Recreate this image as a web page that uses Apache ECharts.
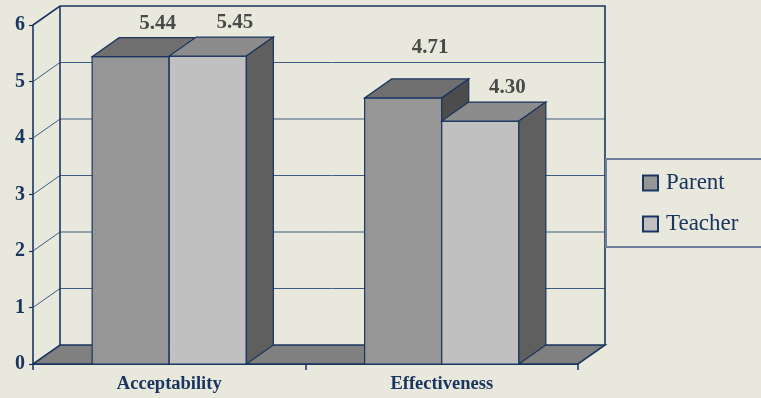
<!DOCTYPE html>
<html>
<head>
<meta charset="utf-8">
<script src="https://cdn.jsdelivr.net/npm/echarts@6/dist/echarts.min.js"></script>
<style>
  html, body { margin: 0; padding: 0; background: #e8e8dc; }
  #chart { width: 761px; height: 398px; }
</style>
</head>
<body>
<div id="chart"></div>
<script>
// Mean ratings by rater group
const categories = ['Acceptability', 'Effectiveness'];
const parentScores = [5.44, 4.71];
const teacherScores = [5.45, 4.30];
const yTicks = [0, 1, 2, 3, 4, 5, 6];

// 3D look: offset of the back plane from the front plane, in pixels
const DEPTH_X = 27;
const DEPTH_Y = -19;
const BAR_FRAC = 0.283;          // share of a category band taken by one bar
const NAVY = '#1a3560';
const GRID_BLUE = '#3d5d85';
const SERIF = '"Liberation Serif", "Times New Roman", serif';

const shades = {
  Parent:  { front: '#969696', top: '#6f6f6f', side: '#4c4c4c' },
  Teacher: { front: '#c0c0c0', top: '#8c8c8c', side: '#5f5f5f' }
};
// extra lift for individual value labels (px), per category
const labelLift = { Parent: [0, 17], Teacher: [0, 0] };

function poly(points, fill, stroke, lw) {
  return {
    type: 'polygon',
    shape: { points: points },
    style: { fill: fill, stroke: stroke, lineWidth: lw }
  };
}

function barRenderer(name, slot) {
  const c = shades[name];
  return function (params, api) {
    const cat = api.value(0);
    const v = api.value(1);
    const base = api.coord([cat, 0]);
    const top = api.coord([cat, v]);
    const band = api.size([1, 0])[0];
    const w = band * BAR_FRAC;
    const xl = base[0] + slot * w;
    const xr = xl + w;
    const yb = base[1];
    const yt = top[1];
    const front = [[xl, yb], [xr, yb], [xr, yt], [xl, yt]];
    const topFace = [[xl, yt], [xr, yt], [xr + DEPTH_X, yt + DEPTH_Y], [xl + DEPTH_X, yt + DEPTH_Y]];
    const side = [[xr, yb], [xr + DEPTH_X, yb + DEPTH_Y], [xr + DEPTH_X, yt + DEPTH_Y], [xr, yt]];
    return {
      type: 'group',
      children: [
        poly(front, c.front, NAVY, 1.2),
        poly(topFace, c.top, NAVY, 1.2),
        poly(side, c.side, NAVY, 1.2),
        {
          type: 'text',
          style: {
            text: v.toFixed(2),
            x: (xl + xr) / 2 + DEPTH_X,
            y: yt + DEPTH_Y - 14 - labelLift[name][params.dataIndex],
            align: 'center',
            verticalAlign: 'middle',
            font: 'bold 21px ' + SERIF,
            fill: '#4a4a4a'
          }
        }
      ]
    };
  };
}

function wallsRenderer(params, api) {
  const cs = params.coordSys;
  const x0 = cs.x;
  const x1 = cs.x + cs.width;
  const yb = api.coord([0, yTicks[0]])[1];
  const ytop = api.coord([0, yTicks[yTicks.length - 1]])[1];
  const children = [];
  // floor
  children.push(poly([[x0, yb], [x1, yb], [x1 + DEPTH_X, yb + DEPTH_Y], [x0 + DEPTH_X, yb + DEPTH_Y]],
    '#808080', NAVY, 1.6));
  // gridlines across side wall and back wall
  yTicks.slice(1, -1).forEach(function (t) {
    const y = api.coord([0, t])[1];
    children.push({
      type: 'polyline',
      shape: { points: [[x0, y], [x0 + DEPTH_X, y + DEPTH_Y], [x1 + DEPTH_X, y + DEPTH_Y]] },
      style: { stroke: GRID_BLUE, lineWidth: 1, fill: null }
    });
  });
  // wall frame
  children.push({
    type: 'polyline',
    shape: { points: [[x0 + DEPTH_X, yb + DEPTH_Y], [x0 + DEPTH_X, ytop + DEPTH_Y]] },
    style: { stroke: NAVY, lineWidth: 1.6, fill: null }
  });
  children.push({
    type: 'polyline',
    shape: { points: [[x0, ytop], [x0 + DEPTH_X, ytop + DEPTH_Y], [x1 + DEPTH_X, ytop + DEPTH_Y], [x1 + DEPTH_X, yb + DEPTH_Y]] },
    style: { stroke: NAVY, lineWidth: 1.6, fill: null }
  });
  return { type: 'group', children: children };
}

const chart = echarts.init(document.getElementById('chart'), null, { renderer: 'canvas' });
chart.setOption({
  backgroundColor: '#e8e8dc',
  animation: false,
  grid: { left: 33, top: 25, width: 545, height: 339, containLabel: false },
  xAxis: {
    type: 'category',
    data: categories,
    boundaryGap: true,
    axisLine: { lineStyle: { color: NAVY, width: 2 } },
    axisTick: { show: true, length: 6, lineStyle: { color: NAVY, width: 1.5 } },
    axisLabel: { margin: 11, fontFamily: SERIF, fontWeight: 'bold', fontSize: 18.5, color: NAVY },
    splitLine: { show: false }
  },
  yAxis: {
    type: 'value',
    min: yTicks[0],
    max: yTicks[yTicks.length - 1],
    interval: 1,
    axisLine: { show: true, lineStyle: { color: NAVY, width: 1.6 } },
    axisTick: { show: true, length: 4, lineStyle: { color: NAVY, width: 1.2 } },
    axisLabel: { margin: 8, fontFamily: SERIF, fontWeight: 'bold', fontSize: 20, color: NAVY },
    splitLine: { show: false }
  },
  legend: {
    orient: 'vertical',
    left: 642,
    top: 171,
    padding: 0,
    itemWidth: 15,
    itemHeight: 15,
    itemGap: 17,
    icon: 'rect',
    data: ['Parent', 'Teacher'],
    textStyle: { fontFamily: SERIF, fontSize: 23, lineHeight: 24, color: NAVY, padding: [0, 0, 0, 3] }
  },
  graphic: [{
    type: 'rect',
    shape: { x: 606, y: 159, width: 200, height: 88 },
    style: { fill: null, stroke: '#6b7f99', lineWidth: 2 },
    z: 10
  }],
  series: [
    {
      type: 'custom',
      name: 'walls',
      z: 1,
      silent: true,
      renderItem: wallsRenderer,
      data: [[0, 0]]
    },
    {
      type: 'custom',
      name: 'Parent',
      z: 2,
      itemStyle: { color: shades.Parent.front, borderColor: NAVY, borderWidth: 1 },
      renderItem: barRenderer('Parent', -1),
      data: categories.map(function (c, i) { return [i, parentScores[i]]; })
    },
    {
      type: 'custom',
      name: 'Teacher',
      z: 3,
      itemStyle: { color: shades.Teacher.front, borderColor: NAVY, borderWidth: 1 },
      renderItem: barRenderer('Teacher', 0),
      data: categories.map(function (c, i) { return [i, teacherScores[i]]; })
    }
  ]
});
</script>
</body>
</html>
